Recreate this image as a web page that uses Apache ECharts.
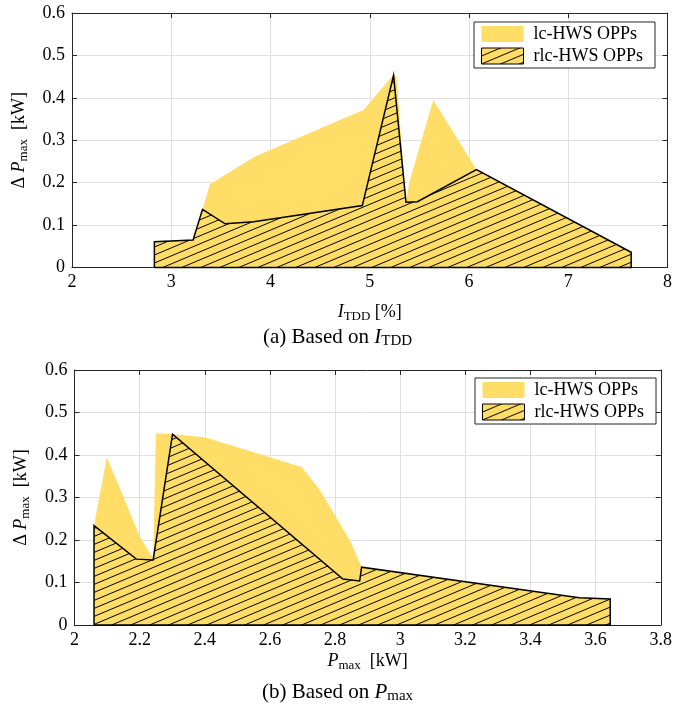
<!DOCTYPE html>
<html>
<head>
<meta charset="utf-8">
<script src="https://cdn.jsdelivr.net/npm/echarts@6/dist/echarts.min.js"></script>
<style>
  html, body { margin: 0; padding: 0; background: #fff; }
  #chart { width: 675px; height: 705px; }
</style>
</head>
<body>
<div id="chart"></div>
<script>
// Upper panel: ΔPmax envelope against I_TDD (%)
const tddLcHws = [
  [2.83, 0], [2.83, 0.061], [3.22, 0.065], [3.315, 0.137], [3.39, 0.196],
  [3.83, 0.26], [4.94, 0.372], [5.24, 0.455], [5.27, 0.449], [5.365, 0.154],
  [5.40, 0.202], [5.64, 0.395], [6.075, 0.231], [7.634, 0.036], [7.634, 0]
];
const tddRlcHws = [
  [2.83, 0], [2.83, 0.061], [3.22, 0.065], [3.315, 0.137], [3.543, 0.103],
  [3.83, 0.108], [4.925, 0.146], [5.24, 0.453], [5.365, 0.154], [5.48, 0.155],
  [6.075, 0.231], [7.634, 0.036], [7.634, 0], [2.83, 0]
];

// Lower panel: ΔPmax envelope against Pmax (kW)
const pmaxLcHws = [
  [2.06, 0], [2.06, 0.234], [2.099, 0.395], [2.146, 0.31], [2.20, 0.208],
  [2.238, 0.161], [2.2415, 0.153], [2.25, 0.451], [2.301, 0.449], [2.40, 0.442],
  [2.697, 0.372], [2.753, 0.318], [2.848, 0.196], [2.8815, 0.136], [3.55, 0.064],
  [3.645, 0.061], [3.645, 0]
];
const pmaxRlcHws = [
  [2.06, 0], [2.06, 0.234], [2.19, 0.155], [2.2415, 0.153], [2.301, 0.449],
  [2.824, 0.108], [2.8756, 0.1035], [2.8815, 0.136], [3.55, 0.064], [3.645, 0.061],
  [3.645, 0], [2.06, 0]
];

const seriesNames = ['lc-HWS OPPs', 'rlc-HWS OPPs'];
const tddRange = [2, 8, 1];       // min, max, step
const pmaxRange = [2, 3.8, 0.2];
const deltaRange = [0, 0.6, 0.1];

const FONT = 'Liberation Serif';
const YELLOW = '#FFDD66';
const AXIS = '#262626';
const GRID = '#e0e0e0';

// Diagonal hatch tile on a yellow ground
function hatchTile(w, h) {
  const c = document.createElement('canvas');
  c.width = w; c.height = h;
  const g = c.getContext('2d');
  g.fillStyle = YELLOW;
  g.fillRect(0, 0, w, h);
  g.strokeStyle = '#000';
  g.lineWidth = 1;
  g.beginPath();
  for (let k = -1; k <= 1; k++) {
    g.moveTo(0, h + k * h);
    g.lineTo(w, k * h);
  }
  g.stroke();
  return c;
}
const hatch = { image: hatchTile(19, 8), repeat: 'repeat' };

const subRich = {
  i: { fontFamily: FONT, fontStyle: 'italic', fontSize: 18, fontWeight: 'normal', color: '#000' },
  s: { fontFamily: FONT, fontSize: 13, lineHeight: 10, verticalAlign: 'bottom', fontWeight: 'normal', color: '#000' },
  n: { fontFamily: FONT, fontSize: 18, fontWeight: 'normal', color: '#000' }
};
const capRich = {
  i: { fontFamily: FONT, fontStyle: 'italic', fontSize: 21, fontWeight: 'normal', color: '#000' },
  s: { fontFamily: FONT, fontSize: 15, lineHeight: 11, verticalAlign: 'bottom', fontWeight: 'normal', color: '#000' },
  n: { fontFamily: FONT, fontSize: 21, fontWeight: 'normal', color: '#000' }
};

const grids = [
  { left: 70.5, right: 7, top: 13, height: 254.5 },
  { left: 74.5, right: 8, top: 370, height: 255 }
];

function mainX(gridIndex, range, name, gap) {
  return {
    type: 'value', gridIndex, position: 'bottom',
    min: range[0], max: range[1], interval: range[2],
    name, nameLocation: 'middle', nameGap: gap,
    nameTextStyle: { fontFamily: FONT, fontSize: 18, color: '#000', lineHeight: 22, rich: subRich },
    axisLine: { show: true, onZero: false, lineStyle: { color: AXIS, width: 1 } },
    axisTick: { show: true, inside: true, length: 5, lineStyle: { color: AXIS } },
    axisLabel: { fontFamily: FONT, fontSize: 18, color: '#000', margin: 6, showMinLabel: true, showMaxLabel: true, hideOverlap: false },
    splitLine: { show: true, lineStyle: { color: GRID, width: 1 } }
  };
}
function mirrorX(gridIndex, range) {
  return {
    type: 'value', gridIndex, position: 'top',
    min: range[0], max: range[1], interval: range[2],
    axisLine: { show: true, onZero: false, lineStyle: { color: AXIS, width: 1 } },
    axisTick: { show: true, inside: true, length: 5, lineStyle: { color: AXIS } },
    axisLabel: { show: false },
    splitLine: { show: false }
  };
}
function mainY(gridIndex, gap) {
  return {
    type: 'value', gridIndex, position: 'left',
    min: deltaRange[0], max: deltaRange[1], interval: deltaRange[2],
    name: '{n|Δ}{i| P}{s|max} {n| [kW]}', nameLocation: 'middle', nameGap: gap, nameRotate: 90,
    nameTextStyle: { fontFamily: FONT, fontSize: 18, color: '#000', lineHeight: 22, rich: subRich },
    axisLine: { show: true, onZero: false, lineStyle: { color: AXIS, width: 1 } },
    axisTick: { show: true, inside: true, length: 5, lineStyle: { color: AXIS } },
    axisLabel: { fontFamily: FONT, fontSize: 18, color: '#000', margin: 7 },
    splitLine: { show: true, lineStyle: { color: GRID, width: 1 } }
  };
}
function mirrorY(gridIndex) {
  return {
    type: 'value', gridIndex, position: 'right',
    min: deltaRange[0], max: deltaRange[1], interval: deltaRange[2],
    axisLine: { show: true, onZero: false, lineStyle: { color: AXIS, width: 1 } },
    axisTick: { show: true, inside: true, length: 5, lineStyle: { color: AXIS } },
    axisLabel: { show: false },
    splitLine: { show: false }
  };
}

function lcSeries(data, axisIndex) {
  return {
    type: 'line', name: seriesNames[0], data,
    xAxisIndex: axisIndex, yAxisIndex: axisIndex,
    symbol: 'none', silent: true, z: 2,
    itemStyle: { color: YELLOW },
    lineStyle: { width: 0, color: YELLOW },
    areaStyle: { color: YELLOW, opacity: 1, origin: 'start' }
  };
}
function rlcSeries(data, axisIndex) {
  return {
    type: 'line', name: seriesNames[1], data,
    xAxisIndex: axisIndex, yAxisIndex: axisIndex,
    symbol: 'none', silent: true, z: 3, clip: false,
    itemStyle: { color: '#000' },
    lineStyle: { width: 1.5, color: '#000', join: 'miter' },
    areaStyle: { color: hatch, opacity: 1, origin: 'start' }
  };
}

function legendAt(left, top) {
  return {
    orient: 'vertical', left, top,
    padding: [3, 12, 3, 7], itemGap: 4,
    itemWidth: 42, itemHeight: 16, icon: 'rect',
    backgroundColor: '#fff', borderColor: AXIS, borderWidth: 1, borderRadius: 0,
    selectedMode: false,
    textStyle: { fontFamily: FONT, fontSize: 18, color: '#000', lineHeight: 16, padding: [0, 0, 0, 5] },
    data: [
      { name: seriesNames[0], itemStyle: { color: YELLOW, borderWidth: 0 } },
      { name: seriesNames[1], itemStyle: { color: hatch, borderColor: '#000', borderWidth: 1 } }
    ]
  };
}

const chart = echarts.init(document.getElementById('chart'), null, { renderer: 'canvas' });
chart.setOption({
  animation: false,
  backgroundColor: '#fff',
  title: [
    {
      text: '{n|(a) Based on }{i|I}{s|TDD}', left: 'center', top: 325, padding: 0,
      textStyle: { fontFamily: FONT, fontSize: 21, fontWeight: 'normal', color: '#000', lineHeight: 24, rich: capRich }
    },
    {
      text: '{n|(b) Based on }{i|P}{s|max}', left: 'center', top: 680, padding: 0,
      textStyle: { fontFamily: FONT, fontSize: 21, fontWeight: 'normal', color: '#000', lineHeight: 24, rich: capRich }
    }
  ],
  legend: [legendAt(474, 22), legendAt(475, 378)],
  grid: grids,
  xAxis: [
    mainX(0, tddRange, '{i|I}{s|TDD} {n|[%]}', 34),
    mainX(1, pmaxRange, '{i|P}{s|max}  {n|[kW]}', 18),
    mirrorX(0, tddRange),
    mirrorX(1, pmaxRange)
  ],
  yAxis: [mainY(0, 42), mainY(1, 42), mirrorY(0), mirrorY(1)],
  series: [
    lcSeries(tddLcHws, 0),
    rlcSeries(tddRlcHws, 0),
    lcSeries(pmaxLcHws, 1),
    rlcSeries(pmaxRlcHws, 1)
  ]
});
</script>
</body>
</html>
